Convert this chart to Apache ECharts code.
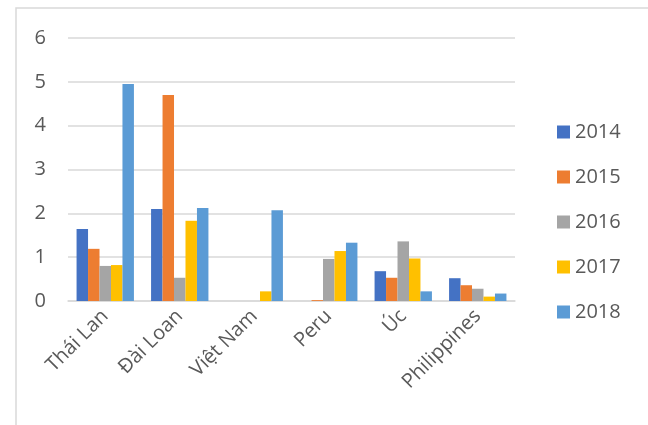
<!DOCTYPE html>
<html>
<head>
<meta charset="utf-8">
<script src="https://cdn.jsdelivr.net/npm/echarts@6/dist/echarts.min.js"></script>
<style>
  html, body { margin: 0; padding: 0; background: #fff; }
  #chart { width: 648px; height: 425px; }
</style>
</head>
<body>
<div id="chart"></div>
<script>
const countries = ['Thái Lan', 'Đài Loan', 'Việt Nam', 'Peru', 'Úc', 'Philippines'];
const years = ['2014', '2015', '2016', '2017', '2018'];
const v2014 = [1.64, 2.1, 0, 0, 0.68, 0.52];
const v2015 = [1.19, 4.7, 0, 0.02, 0.53, 0.36];
const v2016 = [0.8, 0.53, 0, 0.96, 1.36, 0.28];
const v2017 = [0.82, 1.83, 0.22, 1.14, 0.97, 0.1];
const v2018 = [4.95, 2.12, 2.07, 1.33, 0.22, 0.17];
const colors = ['#4472C4', '#ED7D31', '#A5A5A5', '#FFC000', '#5B9BD5'];

const allValues = [v2014, v2015, v2016, v2017, v2018];
const font = '"Open Sans", "Noto Sans", sans-serif';

var myChart = echarts.init(document.getElementById('chart'));
myChart.setOption({
  animation: false,
  color: colors,
  textStyle: { fontFamily: font },
  graphic: [{
    type: 'rect',
    shape: { x: 16, y: 8, width: 700, height: 500 },
    style: { fill: 'none', stroke: '#d9d9d9', lineWidth: 1.5 },
    silent: true
  }],
  legend: {
    orient: 'vertical',
    left: 552,
    top: 117,
    itemWidth: 13,
    itemHeight: 13,
    itemGap: 25,
    icon: 'rect',
    textStyle: { fontSize: 20, lineHeight: 20, color: '#595959', fontFamily: font },
    data: years
  },
  grid: { left: 68, right: 133, top: 38, bottom: 124 },
  xAxis: {
    type: 'category',
    data: countries,
    axisLine: { lineStyle: { color: '#d9d9d9', width: 1.5 } },
    axisTick: { show: false },
    axisLabel: { rotate: 45, fontSize: 20, color: '#595959', margin: 12, interval: 0 }
  },
  yAxis: {
    type: 'value',
    min: 0,
    max: 6,
    interval: 1,
    axisLine: { show: false },
    axisTick: { show: false },
    splitLine: { lineStyle: { color: '#d9d9d9', width: 1.5 } },
    axisLabel: { fontSize: 20, color: '#595959', margin: 22 }
  },
  series: years.map((y, i) => ({
    name: y,
    type: 'bar',
    data: allValues[i],
    barGap: '0%',
    barCategoryGap: '23%'
  }))
});
</script>
</body>
</html>
